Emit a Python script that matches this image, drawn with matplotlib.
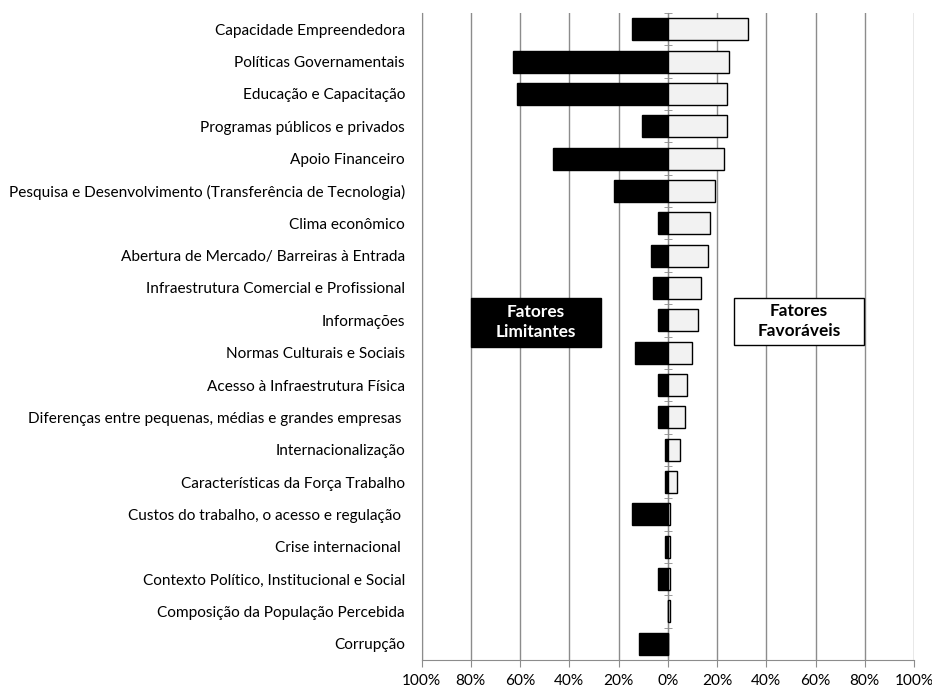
import matplotlib
matplotlib.use('Agg')
import matplotlib.pyplot as plt
from matplotlib.patches import Rectangle
import numpy as np

plt.rcParams['font.family'] = ['Lato', 'DejaVu Sans']

# fatores, de cima para baixo
categorias = [
    'Capacidade Empreendedora',
    'Políticas Governamentais',
    'Educação e Capacitação',
    'Programas públicos e privados',
    'Apoio Financeiro',
    'Pesquisa e Desenvolvimento (Transferência de Tecnologia)',
    'Clima econômico',
    'Abertura de Mercado/ Barreiras à Entrada',
    'Infraestrutura Comercial e Profissional',
    'Informações',
    'Normas Culturais e Sociais',
    'Acesso à Infraestrutura Física',
    'Diferenças entre pequenas, médias e grandes empresas ',
    'Internacionalização',
    'Características da Força Trabalho',
    'Custos do trabalho, o acesso e regulação ',
    'Crise internacional ',
    'Contexto Político, Institucional e Social',
    'Composição da População Percebida',
    'Corrupção',
]
# % de citações como fator limitante (lado esquerdo)
limitantes = [14.4, 62.9, 61.1, 10.5, 46.7, 21.9, 3.9, 6.8, 5.8, 3.9,
              13.4, 3.9, 3.9, 1.1, 1.1, 14.4, 1.1, 3.9, 0.0, 11.5]
# % de citações como fator favorável (lado direito)
favoraveis = [32.4, 24.9, 23.9, 23.9, 23.0, 19.3, 17.3, 16.3, 13.5, 12.4,
              9.7, 7.8, 6.9, 4.9, 3.9, 1.1, 1.1, 1.1, 1.1, 0.0]
xticks = [-100, -80, -60, -40, -20, 0, 20, 40, 60, 80, 100]

grey = '#8c8c8c'
fs = 11.1
y = np.arange(len(categorias))

fig = plt.figure(figsize=(9.32, 6.88), dpi=100)
ax = fig.add_axes([0.4523, 0.0407, 0.5284, 0.9404])

ax.barh(y, -np.array(limitantes), height=0.68, color='black',
        edgecolor='black', linewidth=1, zorder=3)
ax.barh(y, favoraveis, height=0.68, color='#f2f2f2',
        edgecolor='black', linewidth=1, zorder=3)

ax.set_xlim(-100, 100)
ax.set_ylim(len(categorias) - 0.5, -0.5)

ax.set_xticks(xticks)
ax.set_xticklabels(['%d%%' % abs(v) for v in xticks])
ax.xaxis.grid(True, color=grey, linewidth=1, zorder=0)
ax.tick_params(axis='x', direction='out', length=5, color=grey, pad=5,
               labelsize=fs)

ax.set_yticks(y)
ax.set_yticklabels(categorias)
ax.set_yticks(np.arange(len(categorias) + 1) - 0.5, minor=True)
ax.tick_params(axis='y', which='major', left=False, right=False, pad=8.5,
               labelsize=fs)
ax.tick_params(axis='y', which='minor', left=False, right=True,
               direction='inout', length=6, color=grey)

ax.spines['top'].set_visible(False)
ax.spines['left'].set_color(grey)
ax.spines['bottom'].set_color(grey)
ax.spines['right'].set_position(('data', 0))
ax.spines['right'].set_color(grey)
ax.spines['right'].set_zorder(2)

# caixas de legenda
ax.add_patch(Rectangle((-79.9, 8.31), 52.8, 1.51, facecolor='black',
                       edgecolor='black', zorder=4))
ax.text(-53.5, 9.06, 'Fatores\nLimitantes', color='white', fontsize=12.4,
        fontweight='bold', ha='center', va='center', linespacing=1.3,
        zorder=5)
ax.add_patch(Rectangle((26.9, 8.31), 52.6, 1.45, facecolor='white',
                       edgecolor='black', linewidth=1, zorder=4))
ax.text(53.2, 9.03, 'Fatores\nFavoráveis', color='black', fontsize=12.4,
        fontweight='bold', ha='center', va='center', linespacing=1.3,
        zorder=5)

fig.savefig('out.png', dpi=100)
